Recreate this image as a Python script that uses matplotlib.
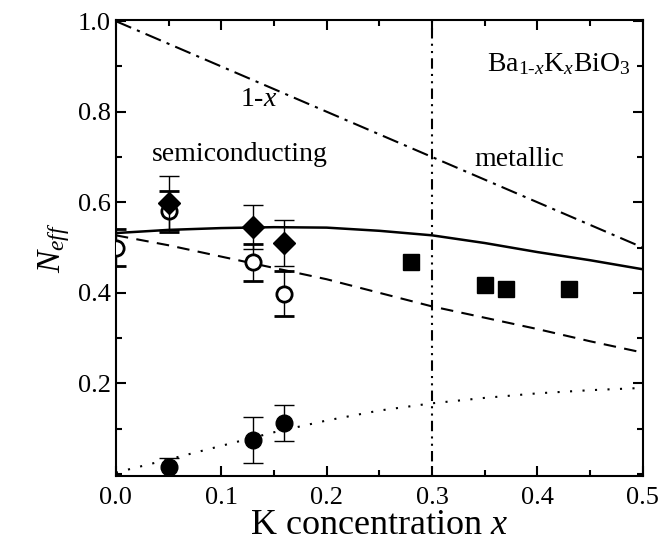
import matplotlib
matplotlib.use("Agg")
import matplotlib.pyplot as plt
import numpy as np
from matplotlib.ticker import MultipleLocator

# open circles
x_open = [0.0, 0.05, 0.13, 0.16]
y_open = [0.50, 0.58, 0.467, 0.398]
e_open = [0.04, 0.045, 0.04, 0.05]

# filled diamonds
x_dia = [0.05, 0.13, 0.16]
y_dia = [0.598, 0.545, 0.51]
e_dia = [0.06, 0.048, 0.05]

# filled circles
x_fill = [0.05, 0.13, 0.16]
y_fill = [0.015, 0.075, 0.113]
e_fill = [0.02, 0.05, 0.04]

# filled squares
x_sq = [0.28, 0.35, 0.37, 0.43]
y_sq = [0.468, 0.418, 0.408, 0.408]

# curves
x_curve = [0.0, 0.05, 0.1, 0.15, 0.2, 0.25, 0.3, 0.35, 0.4, 0.45, 0.5]
y_solid = [0.532, 0.539, 0.543, 0.545, 0.544, 0.537, 0.527, 0.51, 0.49, 0.472, 0.452]
y_dashed = [0.527, 0.505, 0.48, 0.455, 0.43, 0.40, 0.37, 0.345, 0.32, 0.293, 0.268]
y_dotted = [0.003, 0.032, 0.062, 0.092, 0.118, 0.14, 0.156, 0.168, 0.178, 0.185, 0.19]
x_line = [0.0, 0.5]
y_line = [1.0, 0.5]

plt.rcParams["font.family"] = ["Liberation Serif", "DejaVu Serif"]
plt.rcParams["mathtext.fontset"] = "custom"
plt.rcParams["mathtext.rm"] = "Liberation Serif"
plt.rcParams["mathtext.it"] = "Liberation Serif:italic"

fig = plt.figure(figsize=(6.62, 5.5), dpi=100)
ax = fig.add_axes([0.175, 0.135, 0.796, 0.829])

ax.plot(x_line, y_line, color="black", lw=1.5, dashes=(8, 3, 1.5, 3))
ax.plot(x_curve, y_solid, color="black", lw=1.8, ls="-")
ax.plot(x_curve, y_dashed, color="black", lw=1.5, dashes=(6, 4))
ax.plot(x_curve, y_dotted, color="black", lw=1.5, dashes=(1, 5))
ax.axvline(0.3, color="black", lw=1.5, dashes=(1, 2.5, 1, 2.5, 5, 2.5))

ax.errorbar(x_open, y_open, yerr=e_open, fmt="o", mfc="white", mec="black",
            mew=2, ms=11, ecolor="black", elinewidth=1, capsize=7, capthick=1, zorder=3)
ax.errorbar(x_dia, y_dia, yerr=e_dia, fmt="D", color="black", ms=11,
            ecolor="black", elinewidth=1, capsize=7, capthick=1, zorder=4)
ax.errorbar(x_fill, y_fill, yerr=e_fill, fmt="o", color="black", ms=12,
            ecolor="black", elinewidth=1, capsize=7, capthick=1, zorder=4)
ax.plot(x_sq, y_sq, "s", color="black", ms=11, zorder=4)

ax.text(0.135, 0.826, r"1-$\mathit{x}$", fontsize=20, ha="center", va="center")
ax.text(0.118, 0.705, "semiconducting", fontsize=20, ha="center", va="center")
ax.text(0.383, 0.694, "metallic", fontsize=20, ha="center", va="center")
ax.text(0.42, 0.904, r"Ba$_{1\text{-}\mathit{x}}$K$_{\mathit{x}}$BiO$_3$", fontsize=20,
        ha="center", va="center")

ax.set_xlim(0, 0.5)
ax.set_ylim(-0.004, 1.003)
ax.set_yticks([0.2, 0.4, 0.6, 0.8, 1.0])
ax.set_xticks([0.0, 0.1, 0.2, 0.3, 0.4, 0.5])
ax.xaxis.set_minor_locator(MultipleLocator(0.05))
ax.yaxis.set_minor_locator(MultipleLocator(0.1))
ax.tick_params(which="both", direction="in", top=True, right=True, width=1.5, labelsize=19)
ax.tick_params(which="major", length=7)
ax.tick_params(which="minor", length=4)
ax.tick_params(axis="x", pad=8)
for s in ax.spines.values():
    s.set_linewidth(1.5)

ax.set_xlabel(r"K concentration $\mathit{x}$", fontsize=26, labelpad=0)
ax.set_ylabel(r"$\mathit{N}_{\mathit{eff}}$", fontsize=24, labelpad=4)

fig.savefig("out.png", dpi=100)
